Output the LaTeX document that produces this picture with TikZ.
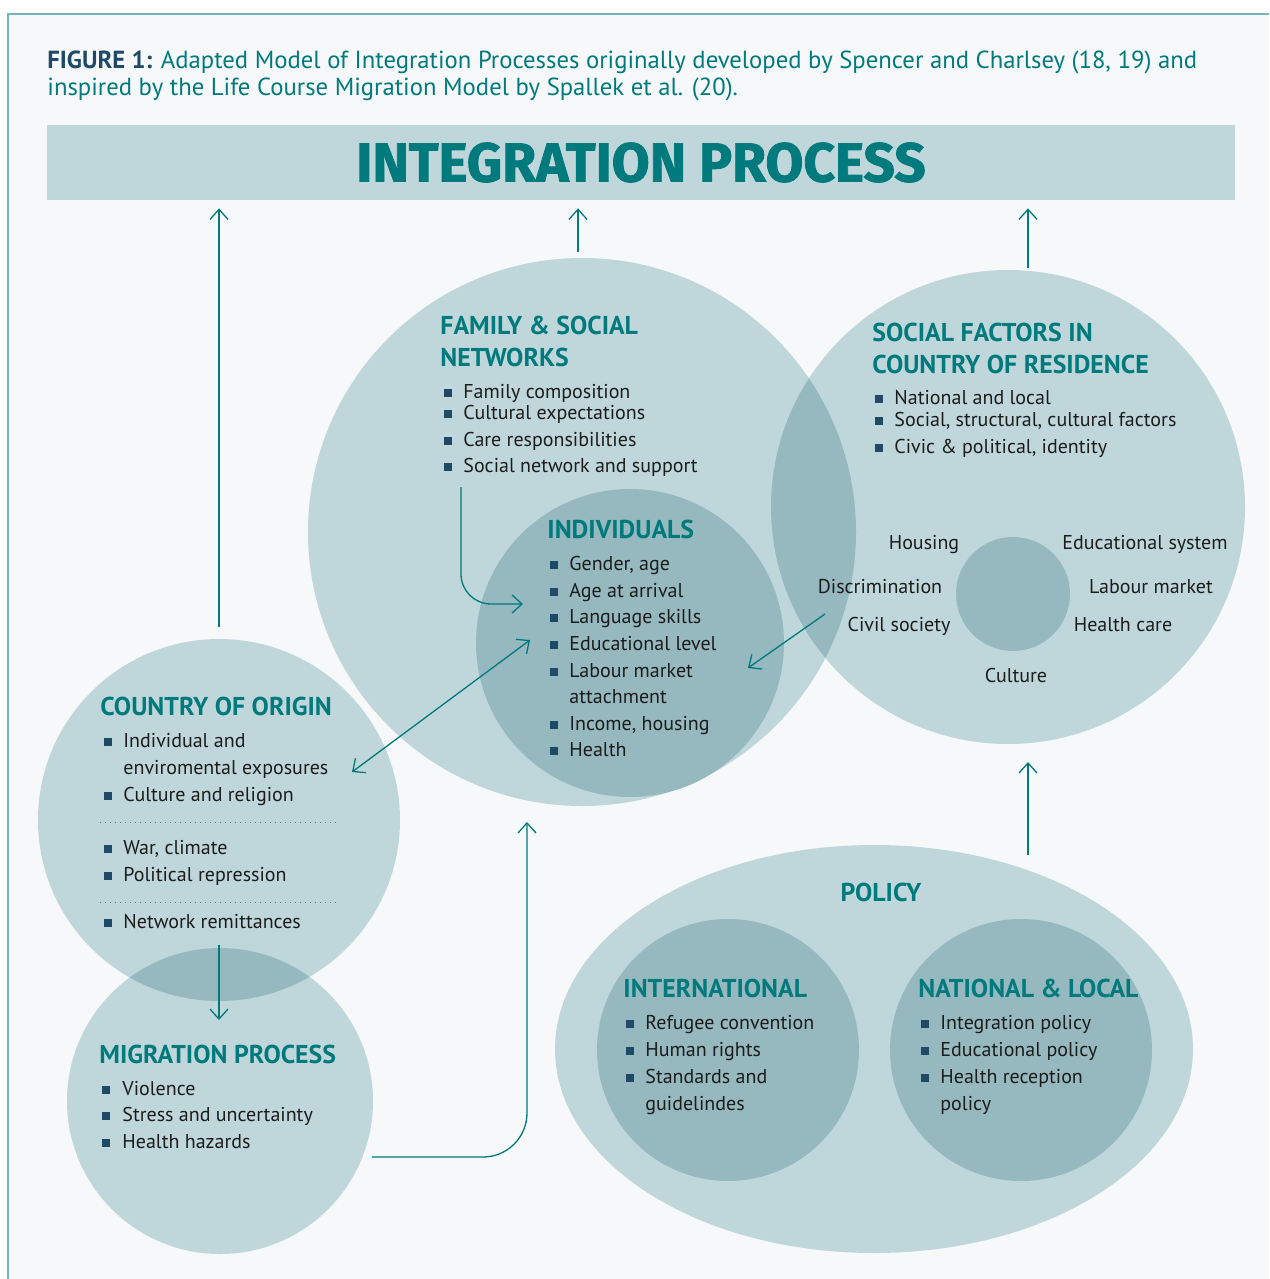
\documentclass[tikz,border=0pt]{standalone}
\usepackage{fontspec}
\setmainfont{PT Sans}
\newfontfamily\bannerfont{Fira Sans}[BoldFeatures={FakeBold=1.5}]
\usetikzlibrary{calc,positioning,arrows.meta,shapes.geometric}
\definecolor{pagebg}{HTML}{F6F8FA}
\definecolor{frameline}{HTML}{74B3B8}
\definecolor{disclight}{HTML}{BFD7DB}
\definecolor{discdark}{HTML}{95B9BF}
\definecolor{tealhead}{HTML}{007A7D}
\definecolor{navy}{HTML}{1E4A68}
\definecolor{inktext}{HTML}{1C1C1C}
\tikzset{
  lightdisc/.style = {circle, fill=disclight, inner sep=0pt, minimum size=#1},
  darkdisc/.style  = {circle, fill=discdark, inner sep=0pt, minimum size=#1},
  captxt/.style    = {font=\fontsize{12.35}{14}\selectfont, text=tealhead,
                      anchor=base west, inner sep=0pt},
  headtxt/.style   = {font=\fontsize{12.9}{15}\selectfont\bfseries, text=tealhead,
                      anchor=mid west, inner sep=0pt},
  itemtxt/.style   = {font=\fontsize{10}{12}\selectfont, text=inktext,
                      anchor=mid west, inner sep=0pt},
  ringtxt/.style   = {font=\fontsize{10}{12}\selectfont, text=inktext,
                      anchor=mid, inner sep=0pt},
  itembul/.style   = {fill=navy, minimum size=4pt, inner sep=0pt},
  flow/.style      = {->, >={Straight Barb[length=5pt, width=9pt]},
                      draw=tealhead, line width=0.65pt},
  twoway/.style    = {flow, <->},
  dotline/.style   = {draw=navy!70, line width=0.5pt, dotted},
}

\begin{document}
\begin{tikzpicture}[x=0.5pt, y=-0.5pt]
  \useasboundingbox (0,0) rectangle (1269,1279);
  \fill[pagebg] (8,14) rectangle (1269,1279);
  \draw[frameline, line width=1pt] (8,1279) -- (8,14) -- (1269,14);

  % caption
  \node[captxt] (cap1) at (47,69)
    {\textcolor{navy}{\bfseries FIGURE 1:} Adapted Model of Integration Processes originally developed by Spencer and Charlsey (18, 19) and};
  \node[captxt] (cap2) at (47,96)
    {inspired by the Life Course Migration Model by Spallek et al. (20).};

  % banner
  \node[fill=disclight, minimum width=594pt, minimum height=37.5pt, inner sep=0pt,
        font=\bannerfont\bfseries\fontsize{27.5}{30}\selectfont, text=tealhead]
        (banner) at (641,162.5) {INTEGRATION PROCESS};

  % discs
  \node[lightdisc=274pt] (family) at (582,532) {};
  \node[lightdisc=237pt] (social) at (1008,507) {};
  \begin{scope}
    \clip (family.center) circle[radius=137pt];
    \fill[discdark] (social.center) circle[radius=118.5pt];
  \end{scope}
  \node[darkdisc=154pt] (indiv) at (630,643) {};
  \node[darkdisc=57pt] (hub) at (1013,594) {};
  \node[lightdisc=181pt] (origin) at (219,820) {};
  \node[lightdisc=153pt] (migr) at (220,1101) {};
  \begin{scope}
    \clip (origin.center) circle[radius=90.5pt];
    \fill[discdark] (migr.center) circle[radius=76.5pt];
  \end{scope}
  \node[ellipse, fill=disclight, minimum width=319pt, minimum height=204pt,
        inner sep=0pt] (policy) at (874,1049) {};
  \node[darkdisc=131pt] (intl) at (728,1050) {};
  \node[darkdisc=131pt] (natl) at (1021,1050) {};

  % family & social networks
  \node[headtxt] (famhead1) at (440,329) {FAMILY \& SOCIAL};
  \node[headtxt] (famhead2) at (440,361) {NETWORKS};
  \foreach \yy/\name [count=\i] in {393/Family composition, 414/Cultural expectations,
      441/Care responsibilities, 467/Social network and support}
    {\node[itembul] at (448,\yy) {};
     \node[itemtxt] (fam\i) at (463,\yy) {\name};}

  % social factors in country of residence
  \node[headtxt] (sochead1) at (872,336) {SOCIAL FACTORS IN};
  \node[headtxt] (sochead2) at (872,368) {COUNTRY OF RESIDENCE};
  \foreach \yy/\name [count=\i] in {399/National and local,
      421/{Social, structural, cultural factors}, 448/{Civic \& political, identity}}
    {\node[itembul] at (879,\yy) {};
     \node[itemtxt] (soc\i) at (894,\yy) {\name};}
  \node[ringtxt] (housing) at (924,544) {Housing};
  \node[ringtxt] (edusys) at (1145,544) {Educational system};
  \node[ringtxt] (discrim) at (880,588) {Discrimination};
  \node[ringtxt] (labour) at (1151,588) {Labour market};
  \node[ringtxt] (civil) at (899,626) {Civil society};
  \node[ringtxt] (health) at (1123,626) {Health care};
  \node[ringtxt] (culture) at (1016,677) {Culture};

  % individuals
  \node[headtxt] (indhead) at (547,533) {INDIVIDUALS};
  \foreach \yy/\name [count=\i] in {565/{Gender, age}, 592/Age at arrival,
      618/Language skills, 645/Educational level, 672/Labour market,
      725/{Income, housing}, 751/Health}
    {\node[itembul] at (554,\yy) {};
     \node[itemtxt] (ind\i) at (569,\yy) {\name};}
  \node[itemtxt] (ind5b) at (569,698) {attachment};

  % country of origin
  \node[headtxt] (orghead) at (100,710) {COUNTRY OF ORIGIN};
  \foreach \yy/\name [count=\i] in {742/Individual and, 796/Culture and religion,
      849/{War, climate}, 876/Political repression, 923/Network remittances}
    {\node[itembul] at (108,\yy) {};
     \node[itemtxt] (org\i) at (123,\yy) {\name};}
  \node[itemtxt] (org1b) at (123,769) {enviromental exposures};
  \draw[dotline] (100,822) -- (338,822);
  \draw[dotline] (100,902) -- (338,902);

  % migration process
  \node[headtxt] (mighead) at (99,1058) {MIGRATION PROCESS};
  \foreach \yy/\name [count=\i] in {1090/Violence, 1116/Stress and uncertainty,
      1143/Health hazards}
    {\node[itembul] at (106,\yy) {};
     \node[itemtxt] (mig\i) at (122,\yy) {\name};}

  % policy
  \node[headtxt, anchor=mid] (polhead) at (881,896) {POLICY};
  \node[headtxt] (intlhead) at (623,992) {INTERNATIONAL};
  \foreach \yy/\name [count=\i] in {1024/Refugee convention, 1051/Human rights,
      1078/Standards and}
    {\node[itembul] at (630,\yy) {};
     \node[itemtxt] (intl\i) at (645,\yy) {\name};}
  \node[itemtxt] (intl3b) at (645,1105) {guidelindes};
  \node[headtxt] (natlhead) at (918,992) {NATIONAL \& LOCAL};
  \foreach \yy/\name [count=\i] in {1024/Integration policy, 1051/Educational policy,
      1078/Health reception}
    {\node[itembul] at (925,\yy) {};
     \node[itemtxt] (natl\i) at (940,\yy) {\name};}
  \node[itemtxt] (natl3b) at (940,1105) {policy};

  % connectors
  \coordinate (orgup) at (219,627);
  \coordinate (famup) at (578,252);
  \coordinate (socup) at (1028,268);
  \coordinate (orgdown) at (219,945);
  \coordinate (migin) at (219,1020);
  \coordinate (migout) at (372,1157);
  \coordinate (famin) at (527,822);
  \coordinate (polup) at (1028,855);
  \coordinate (socin) at (1028,762);
  \coordinate (famout) at (461,487);
  \coordinate (indin) at (523,604);
  \coordinate (orgside) at (352,772);
  \coordinate (indside) at (530,640);
  \coordinate (socout) at (825,614);
  \coordinate (indright) at (748,668);

  \draw[flow, shorten >=4pt] (orgup) -- (orgup |- banner.south);
  \draw[flow, shorten >=4pt] (famup) -- (famup |- banner.south);
  \draw[flow, shorten >=4pt] (socup) -- (socup |- banner.south);
  \draw[flow] (orgdown) -- (migin);
  \draw[flow, rounded corners=22pt] (migout) -| (famin);
  \draw[flow] (polup) -- (socin);
  \draw[flow, rounded corners=15pt] (famout) |- (indin);
  \draw[twoway] (orgside) -- (indside);
  \draw[flow] (socout) -- (indright);
\end{tikzpicture}
\end{document}
